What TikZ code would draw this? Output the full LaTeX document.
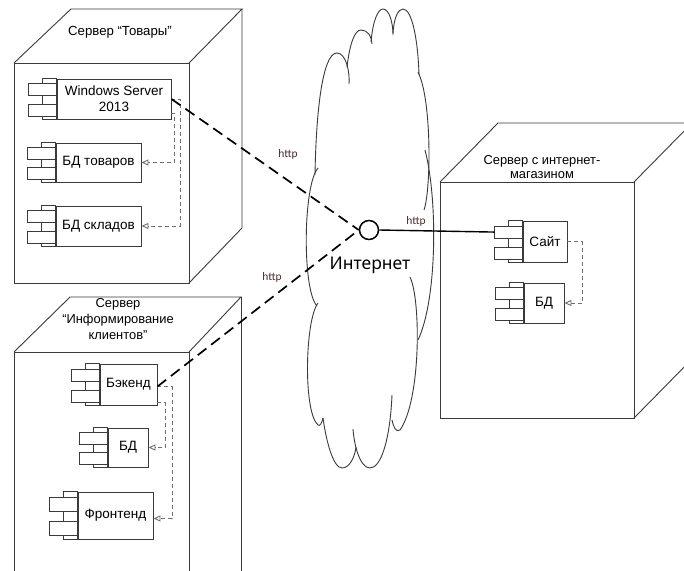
\documentclass[tikz,border=0pt]{standalone}
\usepackage{fontspec}
\setmainfont{Liberation Sans}
\newfontfamily\httpfont{Carlito}
\newfontfamily\netfont{Noto Sans}
\usetikzlibrary{arrows.meta,calc}
\definecolor{ln}{HTML}{3A3A3A}
\definecolor{dg}{HTML}{707070}
\definecolor{httpc}{HTML}{4A2A2A}
\tikzset{
 boxline/.style={draw=ln, line width=0.9pt},
 comp/.style={draw=ln, line width=0.9pt, fill=white, inner sep=1pt, font=\fontsize{13.5}{16}\selectfont, align=center},
 tabbox/.style={draw=ln, line width=0.9pt, fill=white},
 dep/.style={draw=dg, line width=0.9pt, dash pattern=on 4pt off 3pt, -{Triangle[open,length=7pt,width=6pt]}},
 httpl/.style={draw=black, line width=1.7pt, dash pattern=on 11pt off 6pt},
 lbl/.style={font=\fontsize{13.2}{15}\selectfont, align=center, inner sep=0pt},
 httplbl/.style={font=\httpfont\fontsize{11.5}{13}\selectfont, text=httpc, inner sep=0pt},
 cloudline/.style={draw=ln, line width=0.9pt},
}
\newcommand\comptabs[1]{%
 \draw[tabbox] ($(#1.north west)+(-14,0)$) rectangle (#1.south west);
 \draw[tabbox] ($(#1.north west)!0.13!(#1.south west)+(-28,0)$) rectangle ($(#1.north west)!0.42!(#1.south west)$);
 \draw[tabbox] ($(#1.north west)!0.63!(#1.south west)+(-28,0)$) rectangle ($(#1.north west)!0.92!(#1.south west)$);
 \coordinate (#1-tab) at ($(#1.north west)!0.275!(#1.south west)+(-28,0)$);
}
\begin{document}
\begin{tikzpicture}[x=1pt,y=-1pt]
\useasboundingbox (0,0) rectangle (684,570);
\clip (0,0) rectangle (684,570);
\fill[white] (0,0) rectangle (684,570);

% ---------- cloud ----------
\draw[cloudline] (315,175) .. controls (316,115) and (322,53) .. (337,53) .. controls (346,53) and (350,72) .. (349,84);
\draw[cloudline] (347,67) .. controls (350,42) and (355,30) .. (361,30) .. controls (368,30) and (372,37) .. (372,44);
\draw[cloudline] (371,42) .. controls (373,20) and (378,9) .. (383,9) .. controls (389,9) and (393,22) .. (393,35);
\draw[cloudline] (393,33) .. controls (394,18) and (398,9) .. (403,9) .. controls (412,9) and (418,40) .. (419,75);
\draw[cloudline] (418,72) .. controls (432,100) and (431,190) .. (424,210);
\draw[cloudline] (425,150) .. controls (438,200) and (437,300) .. (418,340);
\draw[cloudline] (410,277) .. controls (421,300) and (421,400) .. (400,430) .. controls (396,433) and (393,426) .. (392,420);
\draw[cloudline] (392,395) .. controls (390,440) and (381,468) .. (370,468) .. controls (360,468) and (354,445) .. (353,429);
\draw[cloudline] (323,418) .. controls (326,440) and (333,468) .. (342,468) .. controls (350,468) and (355,456) .. (356,447);
\draw[cloudline] (318,303) .. controls (305,320) and (303,412) .. (318,425) .. controls (320,427) and (322,422) .. (323,418);
\draw[cloudline] (318,168) .. controls (303,185) and (302,290) .. (317,306);

% ---------- server boxes ----------
% box 1
\draw[boxline] (14,63) rectangle (189,283);
\draw[boxline] (14,63) -- (71,9) -- (242,9) -- (189,63);
\draw[boxline] (242,9) -- (242,228) -- (189,283);
% box 2
\draw[boxline] (14,352) rectangle (189,640);
\draw[boxline] (14,352) -- (70,297) -- (241,297) -- (189,352);
\draw[boxline] (241,297) -- (241,640);
% box 3
\draw[boxline] (440,182) rectangle (634,418);
\draw[boxline] (440,182) -- (498,123) -- (692,123) -- (634,182);
\draw[boxline] (692,123) -- (692,359) -- (634,418);

% box labels
\node[lbl] (lb1) at (120,32) {Сервер “Товары”};
\node[lbl, font=\fontsize{12.9}{16}\selectfont] (lb2) at (118,319) {Сервер\\“Информирование\\клиентов”};
\node[lbl, font=\fontsize{12.9}{14}\selectfont] (lb3) at (542,167) {Сервер с интернет-\\магазином};

% ---------- components ----------
\node[comp, minimum width=114pt, minimum height=40pt] (ws) at (114,99) {Windows Server\\2013};
\comptabs{ws}
\node[comp, minimum width=85pt, minimum height=39pt] (bdt) at (98.5,162.5) {БД товаров};
\comptabs{bdt}
\node[comp, minimum width=85pt, minimum height=40pt] (bdsk) at (98.5,226) {БД складов};
\comptabs{bdsk}

\node[comp, minimum width=57pt, minimum height=41pt] (be) at (128.5,384.5) {Бэкенд};
\comptabs{be}
\node[comp, minimum width=40pt, minimum height=39pt] (bd2) at (128,447.5) {БД};
\comptabs{bd2}
\node[comp, minimum width=75pt, minimum height=47pt] (fe) at (115.5,515.5) {Фронтенд};
\comptabs{fe}

\node[comp, minimum width=44pt, minimum height=41pt] (site) at (545,241.5) {Сайт};
\comptabs{site}
\node[comp, minimum width=40pt, minimum height=40pt] (bd3) at (544,303) {БД};
\comptabs{bd3}

% ---------- dependencies ----------
\draw[dep] (ws.east) -- ++(9,0) |- (bdsk.east);
\draw[dep] ([yshift=-14pt]ws.east) -- ++(3,0) |- (bdt.east);
\draw[dep] ([yshift=-2pt]be.east) -- ++(15,0) |- ([yshift=-3pt]fe.east);
\draw[dep] ([yshift=-18pt]be.east) -- ++(8,0) |- (bd2.east);
\draw[dep] (site.east) -- ++(15,0) |- (bd3.east);

% ---------- internet ----------
\node[circle, draw=black, line width=1.5pt, minimum size=19pt, inner sep=0pt] (inet) at (369,230) {};
\draw[httpl] (ws.east) -- (inet.west);
\draw[httpl] ([yshift=-2pt]be.east) -- (inet.west);
\draw[black, line width=1.4pt] (inet.east) -- (site-tab);

\node[font=\netfont\fontsize{17.5}{20}\selectfont, inner sep=0pt] (netl) at (370,265) {Интернет};
\node[httplbl] (h1) at (288,154) {http};
\node[httplbl] (h2) at (272,277) {http};
\node[httplbl] (h3) at (416,221) {http};
\end{tikzpicture}
\end{document}
